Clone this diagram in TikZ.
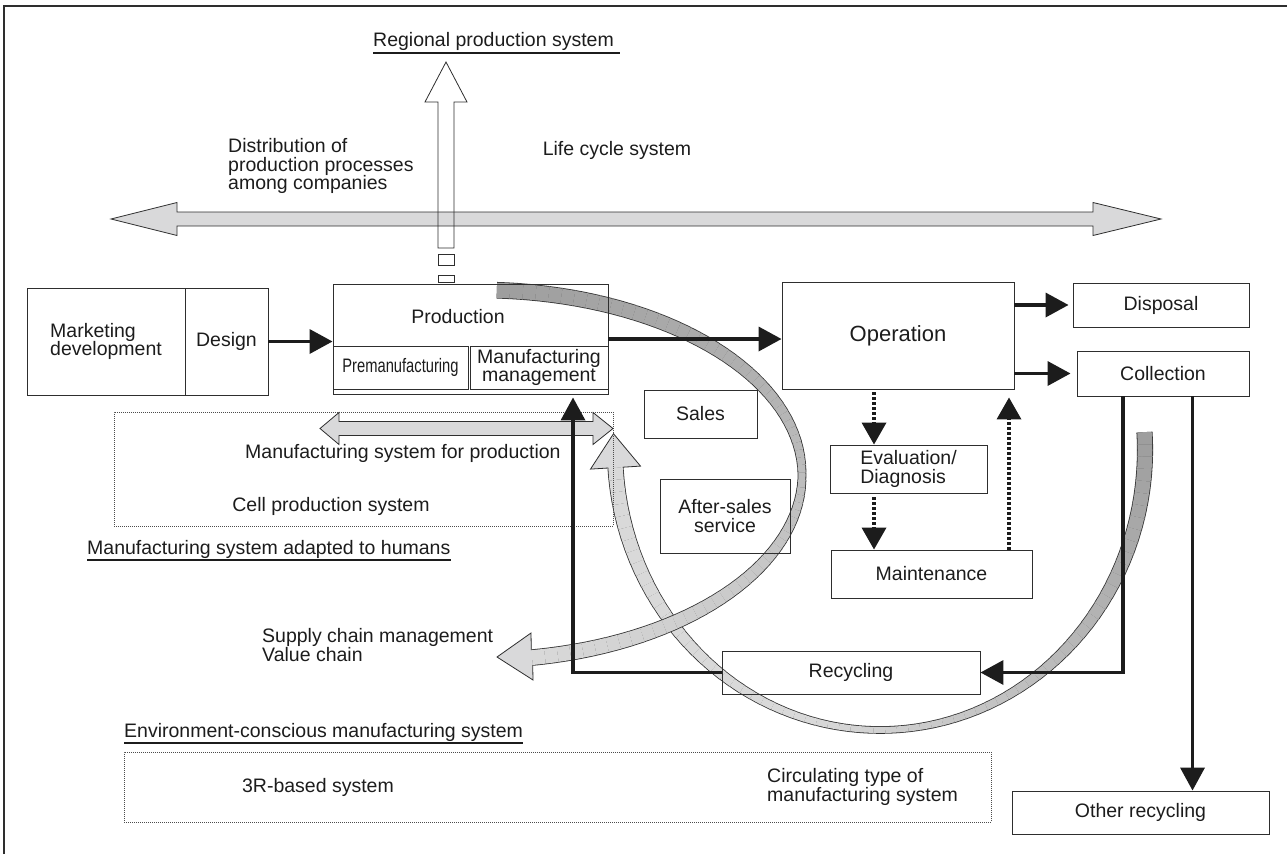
\documentclass[tikz,border=0pt]{standalone}
\usepackage{graphicx}
\usepackage{fontspec}
\setmainfont{Liberation Sans}
\usetikzlibrary{arrows.meta}
\newcommand\lblfont{\fontsize{19.5}{18.7}\selectfont}
\newcommand\opfont{\fontsize{22}{24}\selectfont}
\definecolor{edge}{HTML}{2E2E2E}
\definecolor{pale}{HTML}{D9D9DA}
\definecolor{ink}{HTML}{1C1C1C}

\begin{document}
\begin{tikzpicture}[x=1pt,y=-1pt,
  every node/.style={font=\lblfont, text=ink},
  box/.style={draw=edge, line width=0.9pt, inner sep=0pt, align=center},
  dotbox/.style={draw=black!70, line width=0.6pt, dash pattern=on 0.8pt off 1.2pt, inner sep=0pt},
  flow/.style={draw=ink, line width=3.6pt, -{Triangle[length=23pt,width=24pt]}},
  dotflow/.style={draw=ink, line width=3.6pt, dash pattern=on 3pt off 2pt, -{Triangle[length=22pt,width=24pt]}},
  grayarrow/.style={fill=pale, draw=edge, line width=0.8pt, line join=miter},
  hollow/.style={draw=edge, line width=0.8pt},
  underlined/.style={draw=ink, line width=1.4pt},
  plain/.style={inner sep=0pt},
]
\useasboundingbox (0,0) rectangle (1287,854);

% frame
\draw[edge, line width=1.2pt] (4,854) -- (4,6) -- (1287,6);

% life cycle double arrow
\draw[grayarrow] (111,219) -- (177,202.5) -- (177,212) -- (1093,212) -- (1093,202.5)
  -- (1161,219) -- (1093,235.5) -- (1093,226) -- (177,226) -- (177,235.5) -- cycle;

% hollow arrow towards the regional production system
\draw[hollow] (438,248) -- (438,102) -- (425,102) -- (446,62) -- (467,102) -- (454,102) -- (454,248) -- cycle;
\draw[hollow] (438,254) rectangle (454,265);
\draw[hollow] (438,275) rectangle (454,282);

% circulating ribbon (collection -> back to production)
\foreach \pass in {0,1}{
  \foreach \i in {0,...,71}{
    \pgfmathsetmacro\rA{-3.66+\i*2.5008}
    \pgfmathsetmacro\rB{\rA+2.5008}
    \pgfmathsetmacro\rM{\rA+1.2504}
    \pgfmathsetmacro\rW{6+8.5*cos(\rM)*cos(\rM)+1.6*(1-\pass)}
    \pgfmathsetmacro\rK{\pass==0 ? 80 : max(15,38-23*\i/43)}
    \draw[line width=\rW pt, draw=black!\rK]
      ([shift={(\rA:265 and 280)}]880,450) arc[start angle=\rA, end angle=\rB, x radius=265, y radius=280];
  }
}
\fill[pale] (590.5,469.1) -- (613.5,433.7) -- (640.5,466.1) -- cycle;
\draw[edge, line width=0.8pt, line join=miter] (608.3,468.0) -- (590.5,469.1) -- (613.5,433.7) -- (640.5,466.1) -- (622.7,467.2);

% supply chain ribbon
\foreach \pass in {0,1}{
  \foreach \i in {0,...,71}{
    \pgfmathsetmacro\rA{-87+\i*2.3292}
    \pgfmathsetmacro\rB{\rA+2.3292}
    \pgfmathsetmacro\rM{\rA+1.1646}
    \pgfmathsetmacro\rW{7+8*abs(sin(\rM))+1.6*(1-\pass)}
    \pgfmathsetmacro\rK{\pass==0 ? 80 : 38-23*\i/71}
    \draw[line width=\rW pt, draw=black!\rK]
      ([shift={(\rA:322 and 185)}]480,475) arc[start angle=\rA, end angle=\rB, x radius=322, y radius=185];
  }
}
\fill[pale] (531,633) -- (497,657) -- (533,680) -- cycle;
\draw[edge, line width=0.8pt, line join=miter] (531.3,650.2) -- (531,633) -- (497,657) -- (533,680) -- (532.7,665.0);

% boxes
\node[box, minimum width=158pt, minimum height=107pt, align=left] (mkt) at (106,341.5) {Marketing\\development};
\node[box, minimum width=83pt, minimum height=107pt] (des) at (226.5,341.5) {Design};
\node[box, minimum width=275pt, minimum height=110pt] (prod) at (470.5,339) {};
\node[plain] (prodlbl) at (458,317) {Production};
\node[box, minimum width=135pt, minimum height=43pt] (pre) at (400.5,367.5) {\scalebox{0.755}[1]{Premanufacturing}};
\node[box, minimum width=138pt, minimum height=43pt] (mm) at (539,367.5) {Manufacturing\\management};
\node[box, minimum width=232pt, minimum height=107pt, font=\opfont] (op) at (898,335.5) {Operation};
\node[box, minimum width=176pt, minimum height=44pt] (disp) at (1161,305) {Disposal};
\node[box, minimum width=172pt, minimum height=45pt] (coll) at (1163,373.5) {Collection};
\node[box, minimum width=113pt, minimum height=48pt] (sales) at (700.5,414) {Sales};
\node[box, minimum width=130pt, minimum height=74pt] (after) at (725,516) {After-sales\\service};
\node[box, minimum width=157pt, minimum height=48pt, align=left] (eval) at (908.5,469) {Evaluation/\\Diagnosis};
\node[box, minimum width=201pt, minimum height=48pt] (maint) at (931.5,574) {Maintenance};
\node[box, minimum width=258pt, minimum height=43pt] (recyc) at (851,672.5) {Recycling};
\node[box, minimum width=257pt, minimum height=43pt] (other) at (1140.5,812.5) {Other recycling};

% system areas
\node[dotbox, minimum width=499pt, minimum height=114pt] (cell) at (363.5,469) {};
\node[dotbox, minimum width=867pt, minimum height=70pt] (threeR) at (557.5,787) {};

% manufacturing system double arrow
\draw[grayarrow] (320,428.5) -- (339,412.5) -- (339,421.5) -- (593,421.5) -- (593,412.5)
  -- (613,428.5) -- (593,444.5) -- (593,435.5) -- (339,435.5) -- (339,444.5) -- cycle;

% labels
\node[plain, anchor=base west] (reg) at (373,46) {Regional production system};
\draw[underlined] ([yshift=-7pt]reg.base west) -- ([yshift=-7pt,xshift=6pt]reg.base east);
\node[plain, align=left, anchor=north west] (distrib) at (228,138) {Distribution of\\production processes\\among companies};
\node[plain] (life) at (617,150) {Life cycle system};
\node[plain, anchor=west] (msp) at (245,453) {Manufacturing system for production};
\node[plain] (cellt) at (331,506) {Cell production system};
\node[plain, anchor=base west] (adapt) at (87,554) {Manufacturing system adapted to humans};
\draw[underlined] ([yshift=-6pt]adapt.base west) -- ([yshift=-6pt]adapt.base east);
\node[plain, align=left, anchor=west] (supply) at (262,645) {Supply chain management\\Value chain};
\node[plain, anchor=base west] (env) at (124,737) {Environment-conscious manufacturing system};
\draw[underlined] ([yshift=-6pt]env.base west) -- ([yshift=-6pt]env.base east);
\node[plain] (threeRt) at (318,787) {3R-based system};
\node[plain, align=left, anchor=west] (circ) at (767,787) {Circulating type of\\manufacturing system};

% connectors
\coordinate (xa) at (874,0);
\coordinate (xb) at (1009,0);
\coordinate (xc) at (1123,0);
\coordinate (xd) at (1192.5,0);
\coordinate (xe) at (573,0);

\draw[flow] (des.east) -- (des.east -| prod.west);
\draw[flow] (prod.east) -- (prod.east -| op.west);
\draw[flow] (op.east |- disp.west) -- ([xshift=-4pt]disp.west);
\draw[flow] (op.east |- coll.west) -- ([xshift=-6pt]coll.west);
\draw[dotflow, shorten <=3pt] (op.south -| xa) -- (eval.north -| xa);
\draw[dotflow, shorten <=4pt] (eval.south -| xa) -- (maint.north -| xa);
\draw[dotflow, shorten >=8pt] (maint.north -| xb) -- (op.south -| xb);
\draw[flow, line join=miter] (coll.south -| xc) -- (xc |- recyc.east) -- (recyc.east);
\draw[flow, line join=miter, shorten >=3pt] (recyc.west) -- (recyc.west -| xe) -- (xe |- prod.south);
\draw[flow] (coll.south -| xd) -- (xd |- other.north);
\end{tikzpicture}
\end{document}
